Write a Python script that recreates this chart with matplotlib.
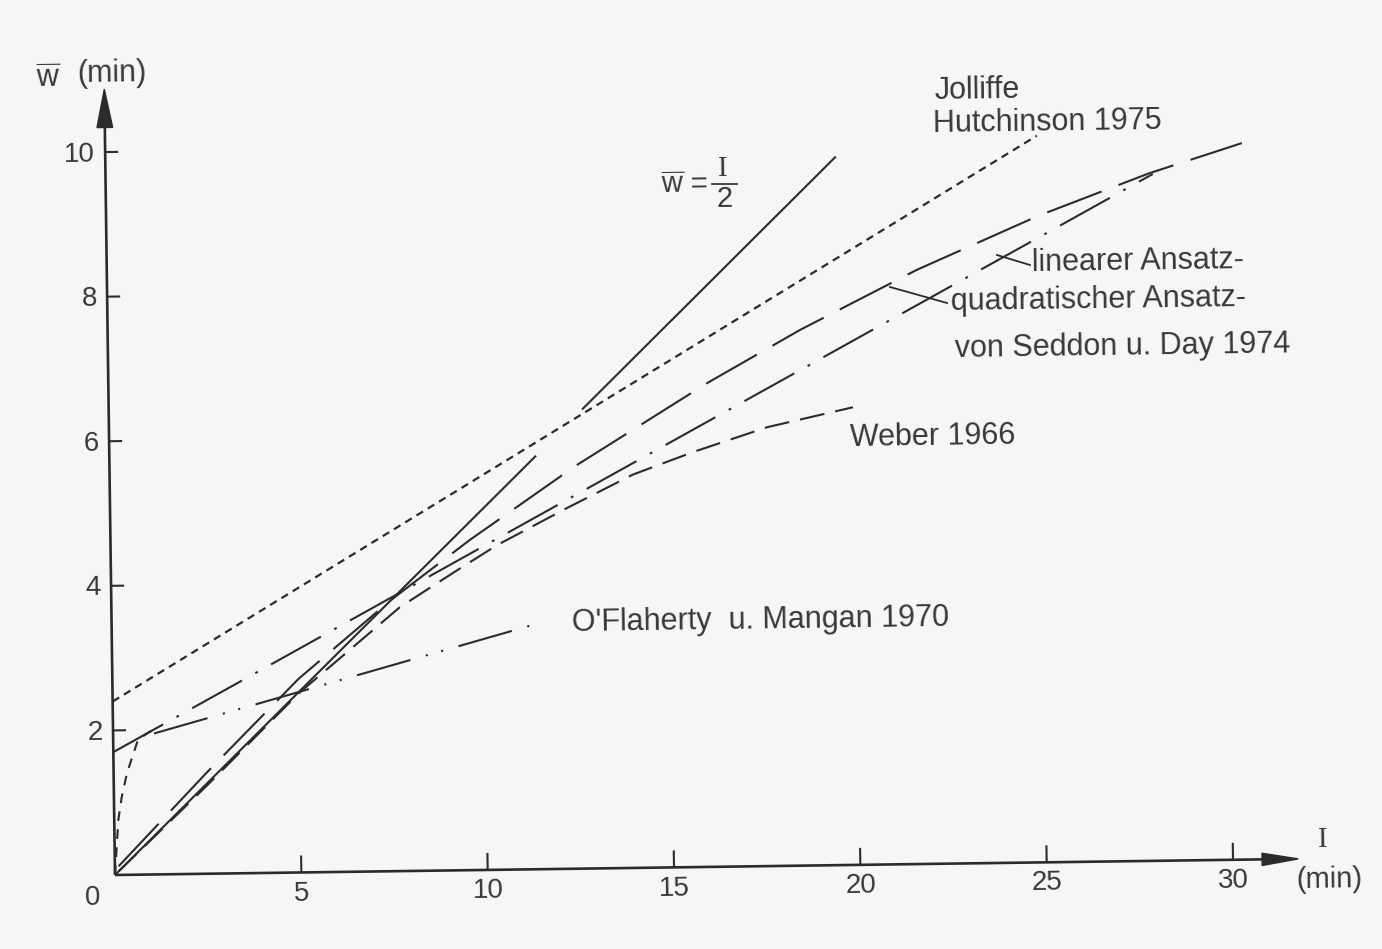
import numpy as np
import matplotlib
matplotlib.use("Agg")
import matplotlib.pyplot as plt
from matplotlib.patches import Polygon
from matplotlib.transforms import Affine2D

plt.rcParams['lines.scale_dashes'] = False
plt.rcParams['font.family'] = ['Liberation Sans', 'DejaVu Sans']
plt.rcParams['mathtext.fontset'] = 'custom'
plt.rcParams['mathtext.rm'] = 'Liberation Sans'
plt.rcParams['mathtext.it'] = 'Liberation Sans'

# ---------------------------------------------------------------- data
x_ticks = [5, 10, 15, 20, 25, 30]
y_ticks = [2, 4, 6, 8, 10]
x_tick_labels = ['5', '10', '15', '20', '25', '30']
y_tick_labels = ['2', '4', '6', '8', '10']

# w = I/2 (random passenger arrivals)
half_I = [0, 11.45, np.nan, 12.7, 19.6]
half_w = [0, 5.72, np.nan, 6.35, 9.80]

# Jolliffe / Hutchinson 1975
jh_I = [0, 25.0]
jh_w = [2.40, 10.05]

# Seddon u. Day 1974, linear fit
lin_I = [0, 28.1]
lin_w = [1.70, 9.50]

# Seddon u. Day 1974, quadratic fit
quad_I = [0.1, 2.5, 5, 7.5, 9.65, 12.5, 16.06, 18.58, 21.74, 25, 28, 30.5]
quad_w = [0.12, 1.40, 2.68, 3.75, 4.57, 5.57, 6.69, 7.41, 8.22, 8.94, 9.51, 9.91]

# Weber 1966
web_I = [0.1, 2.5, 5, 7.74, 9.29, 10.37, 12.26, 14.04, 15.66, 17.66, 19.97]
web_w = [0.05, 1.22, 2.48, 3.65, 4.15, 4.49, 4.99, 5.44, 5.74, 6.07, 6.33]

# O'Flaherty u. Mangan 1970 (steep start plus linear part)
ofm_rise_I = [0, 0.11, 0.21, 0.36, 0.67, 1.0, 1.1]
ofm_rise_w = [0, 0.76, 1.08, 1.41, 1.87, 1.98, 1.96]
ofm_I = [1.1, 11.3]
ofm_w = [1.95, 3.38]

# ---------------------------------------------------------------- figure
W, H, DPI = 1382, 949, 100
X0, Y0 = 115, 875          # origin in pixels (top-left based)
SX, SY = 37.27, 72.3       # pixels per minute on each axis
TILT = 0.78                # the drawing sits slightly rotated on the page

INK = '#2b2b2b'
TXT = '#383838'
PAPER = '#f6f6f6'

fig = plt.figure(figsize=(W / DPI, H / DPI), dpi=DPI)
fig.patch.set_facecolor(PAPER)
ax = fig.add_axes([0, 0, 1, 1])
ax.set_xlim(-X0 / SX, (W - X0) / SX)
ax.set_ylim(-(H - Y0) / SY, Y0 / SY)
ax.axis('off')

tr = ax.transData + Affine2D().rotate_deg_around(X0, H - Y0, TILT)
inv = tr.inverted()


def at(x, y):
    """pixel position (top-left origin) -> data coordinates"""
    return inv.transform((x, H - y))


def line(xs, ys, dashes=None, lw=1.5, **kw):
    ln, = ax.plot(xs, ys, color=INK, lw=lw, transform=tr,
                  solid_capstyle='butt', dash_capstyle='butt', **kw)
    if dashes is not None:
        ln.set_dashes(dashes)
    return ln


def text(x, y, s, ha='left', va='baseline', fs=22, **kw):
    q = at(x, y)
    ax.text(q[0], q[1], s, transform=tr, rotation=TILT, rotation_mode='anchor',
            ha=ha, va=va, fontsize=fs, color=TXT, **kw)


# ---------------------------------------------------------------- axes
x_end, y_end = 31.75, 10.87
line([0, x_end - 0.9], [0, 0], lw=1.9)
line([0, 0], [0, y_end - 0.5], lw=1.9)
ax.add_patch(Polygon([[x_end, 0], [x_end - 0.97, 0.085], [x_end - 0.97, -0.085]],
                     closed=True, color=INK, transform=tr))
ax.add_patch(Polygon([[0, y_end], [-0.21, y_end - 0.53], [0.21, y_end - 0.53]],
                     closed=True, color=INK, transform=tr))

for t, lab in zip(x_ticks, x_tick_labels):
    line([t, t], [0, 0.235], lw=1.5)
    ax.text(t, -0.29, lab, transform=tr, rotation=TILT, rotation_mode='anchor',
            ha='center', va='center', fontsize=20, color=TXT)
ax.text(-0.6, -0.31, '0', transform=tr, rotation=TILT, rotation_mode='anchor',
        ha='center', va='center', fontsize=20, color=TXT)
for t, lab in zip(y_ticks, y_tick_labels):
    line([0, 0.35], [t, t], lw=1.5)
    ax.text(-0.27, t - 0.03, lab, transform=tr, rotation=TILT, rotation_mode='anchor',
            ha='right', va='center', fontsize=20, color=TXT)

# axis titles
text(36, 88, r'$\overline{\mathrm{w}}$', fs=22)
text(77, 82, '(min)', fs=22)
text(1323, 847, 'I', ha='center', fs=21, family='Liberation Serif')
text(1329, 880, '(min)', ha='center', va='center', fs=21)

# ---------------------------------------------------------------- curves
line(half_I, half_w, lw=1.5)
line(jh_I, jh_w, dashes=(5.5, 4.0), lw=1.6)
line(lin_I, lin_w, dashes=(41, 11, 2, 11), lw=1.5)
line(quad_I, quad_w, dashes=(42, 13), lw=1.5)
line(web_I, web_w, dashes=(18, 8), lw=1.5)
line(ofm_rise_I, ofm_rise_w, dashes=(7, 6), lw=1.5)
line(ofm_I, ofm_w, dashes=(40, 11.5, 1.5, 10, 1.5, 11.5), lw=1.5)

# ---------------------------------------------------------------- labels
text(935, 99, 'Jolliffe')
text(933, 132, 'Hutchinson 1975')
text(1032, 271, 'linearer Ansatz-')
text(951, 310, 'quadratischer Ansatz-')
text(955, 357, 'von Seddon u. Day 1974')
text(850, 446, 'Weber 1966')
text(572, 631, "O'Flaherty  u. Mangan 1970")

# w = I/2 label as a small fraction
text(661, 194, r'$\overline{\mathrm{w}}$ =', fs=21)
text(718, 176, 'I', fs=21, family='Liberation Serif')
q1, q2 = at(712, 184), at(737, 184)
ax.plot([q1[0], q2[0]], [q1[1], q2[1]], color=TXT, lw=1.3, transform=tr)
text(716, 207, '2', fs=21)

# leader lines from the fit labels to their curves
for (xa, ya), (xb, yb) in [((997, 255), (1030, 265)), ((890, 287), (947, 303))]:
    a, b = at(xa, ya), at(xb, yb)
    ax.plot([a[0], b[0]], [a[1], b[1]], color=INK, lw=1.3, transform=tr)

fig.savefig('out.png', dpi=DPI, facecolor=PAPER)
